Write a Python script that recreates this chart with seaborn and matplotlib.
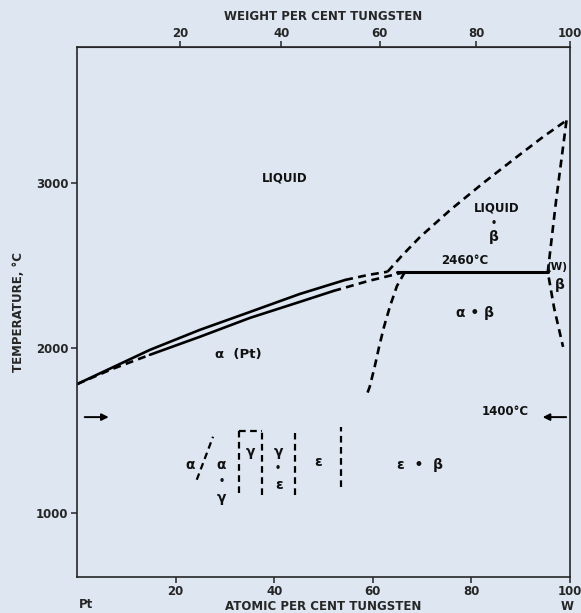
import numpy as np
import matplotlib
matplotlib.use("Agg")
import matplotlib.pyplot as plt
import seaborn as sns

# --- data (atomic % W, temperature in °C) ---
liq_alpha_x = [0, 14.8, 24.9, 35.1, 45.2, 54.4]
liq_alpha_t = [1780, 1988, 2109, 2218, 2327, 2412]
liq_alpha_dash_x = [54.4, 59.0, 63.0]
liq_alpha_dash_t = [2412, 2442, 2462]

sol_alpha_dash1_x = [0, 7.0, 14.8]
sol_alpha_dash1_t = [1780, 1870, 1958]
sol_alpha_x = [14.8, 24.9, 35.1, 45.2, 52.0]
sol_alpha_t = [1958, 2067, 2182, 2279, 2345]
sol_alpha_dash2_x = [52.0, 59.0, 66.5]
sol_alpha_dash2_t = [2345, 2405, 2460]

solvus_alpha_x = [66.5, 64.9, 63.5, 62.3, 61.3, 60.4, 59.4, 58.6]
solvus_alpha_t = [2460, 2375, 2253, 2130, 2009, 1887, 1766, 1700]

liq_beta_x = [63.0, 66.0, 69.6, 75.7, 82.4, 89.2, 94.5, 99.3]
liq_beta_t = [2462, 2562, 2673, 2836, 3000, 3158, 3279, 3380]

beta_bound_x = [99.3, 97.2, 95.5, 96.8, 98.6]
beta_bound_t = [3380, 2897, 2460, 2240, 2006]

peritectic_x = [65.0, 95.5]
peritectic_t = 2460

# low temperature boundaries (dashed)
low_lines = [
    ([24.3, 27.6], [1200, 1461]),
    ([32.9, 32.9], [1121, 1503]),
    ([37.5, 37.5], [1109, 1491]),
    ([32.9, 37.5], [1497, 1497]),
    ([44.2, 44.2], [1109, 1485]),
    ([53.5, 53.5], [1158, 1521]),
]
anneal_t = 1580

at_ticks = [20, 40, 60, 80, 100]
wt_ticks = [20, 40, 60, 80, 100]
t_ticks = [1000, 2000, 3000]

M_W, M_PT = 183.84, 195.08


def at_to_wt(a):
    a = np.asarray(a, dtype=float)
    return 100 * a * M_W / (a * M_W + (100 - a) * M_PT)


def wt_to_at(w):
    w = np.asarray(w, dtype=float)
    return 100 * (w / M_W) / (w / M_W + (100 - w) / M_PT)


bg = "#dde6f1"
sns.set_style("ticks")
plt.rcParams["font.family"] = ["DejaVu Sans"]
plt.rcParams["font.weight"] = "bold"

fig = plt.figure(figsize=(5.81, 6.13), dpi=100, facecolor=bg)
ax = fig.add_axes([0.1325, 0.0587, 0.8485, 0.8646], facecolor=bg)

dash = (0, (3, 2))


def draw(x, y, dashed=False, lw=1.9):
    sns.lineplot(x=x, y=y, ax=ax, color="black", lw=lw, sort=False,
                 estimator=None, linestyle=dash if dashed else "-")


draw(liq_alpha_x, liq_alpha_t)
draw(liq_alpha_dash_x, liq_alpha_dash_t, dashed=True)
draw(sol_alpha_dash1_x, sol_alpha_dash1_t, dashed=True)
draw(sol_alpha_x, sol_alpha_t)
draw(sol_alpha_dash2_x, sol_alpha_dash2_t, dashed=True)
draw(solvus_alpha_x, solvus_alpha_t, dashed=True)
draw(liq_beta_x, liq_beta_t, dashed=True)
draw(beta_bound_x, beta_bound_t, dashed=True)
draw(peritectic_x, [peritectic_t] * 2, lw=2.2)
for lx, lt in low_lines:
    draw(lx, lt, dashed=True, lw=1.6)

# 1400 °C arrows
ax.annotate("", xy=(7, anneal_t), xytext=(1, anneal_t),
            arrowprops=dict(arrowstyle="-|>", color="black", lw=1.4))
ax.annotate("", xy=(93.9, anneal_t), xytext=(99.8, anneal_t),
            arrowprops=dict(arrowstyle="-|>", color="black", lw=1.4))

tk = dict(ha="center", va="center", fontweight="bold", color="#111111")
gk = dict(tk, fontsize=10)
ax.text(42.2, 3030, "LIQUID", fontsize=8.5, **tk)
ax.text(85.1, 2848, "LIQUID", fontsize=8.5, **tk)
ax.text(84.6, 2755, "•", fontsize=7, **tk)
ax.text(84.6, 2670, "β", **gk)
ax.text(78.7, 2533, "2460°C", fontsize=8.5, **tk)
ax.text(97.3, 2490, "(W)", fontsize=7.5, **tk)
ax.text(98.0, 2380, "β", **gk)
ax.text(80.7, 2212, "α • β", **gk)
ax.text(32.7, 1958, "α  (Pt)", fontsize=9.5, **tk)
ax.text(86.8, 1612, "1400°C", fontsize=8.5, **tk)
ax.text(22.9, 1291, "α", **gk)
ax.text(29.3, 1291, "α", **gk)
ax.text(29.3, 1195, "•", fontsize=7, **tk)
ax.text(29.3, 1090, "γ", **gk)
ax.text(35.1, 1370, "γ", **gk)
ax.text(40.8, 1370, "γ", **gk)
ax.text(40.8, 1273, "•", fontsize=7, **tk)
ax.text(41.0, 1170, "ε", **gk)
ax.text(48.9, 1309, "ε", **gk)
ax.text(69.6, 1291, "ε  •  β", **gk)

ax.set_xlim(0, 100)
ax.set_ylim(610, 3825)
ax.set_xticks(at_ticks)
ax.set_yticks(t_ticks)
ax.tick_params(axis="both", direction="out", length=4, width=1.1,
               labelsize=8.5, pad=2)
ax.set_xlabel("ATOMIC PER CENT TUNGSTEN", fontsize=8.5, fontweight="bold",
              labelpad=1)
ax.set_ylabel("TEMPERATURE, °C", fontsize=8.5, fontweight="bold", labelpad=8)
for s in ax.spines.values():
    s.set_visible(True)
    s.set_linewidth(1.2)

xt = ax.get_xaxis_transform()
ax.text(1.8, -0.052, "Pt", transform=xt, fontsize=8.5,
        fontweight="bold", ha="center", va="center")
ax.text(99.4, -0.055, "W", transform=xt, fontsize=8.5,
        fontweight="bold", ha="center", va="center")

top = ax.secondary_xaxis("top", functions=(at_to_wt, wt_to_at))
top.set_xticks(wt_ticks)
top.tick_params(direction="out", length=4, width=1.1, labelsize=8.5, pad=1)
top.set_xlabel("WEIGHT PER CENT TUNGSTEN", fontsize=8.5, fontweight="bold",
               labelpad=5)

fig.savefig("out.png", dpi=100, facecolor=bg)
